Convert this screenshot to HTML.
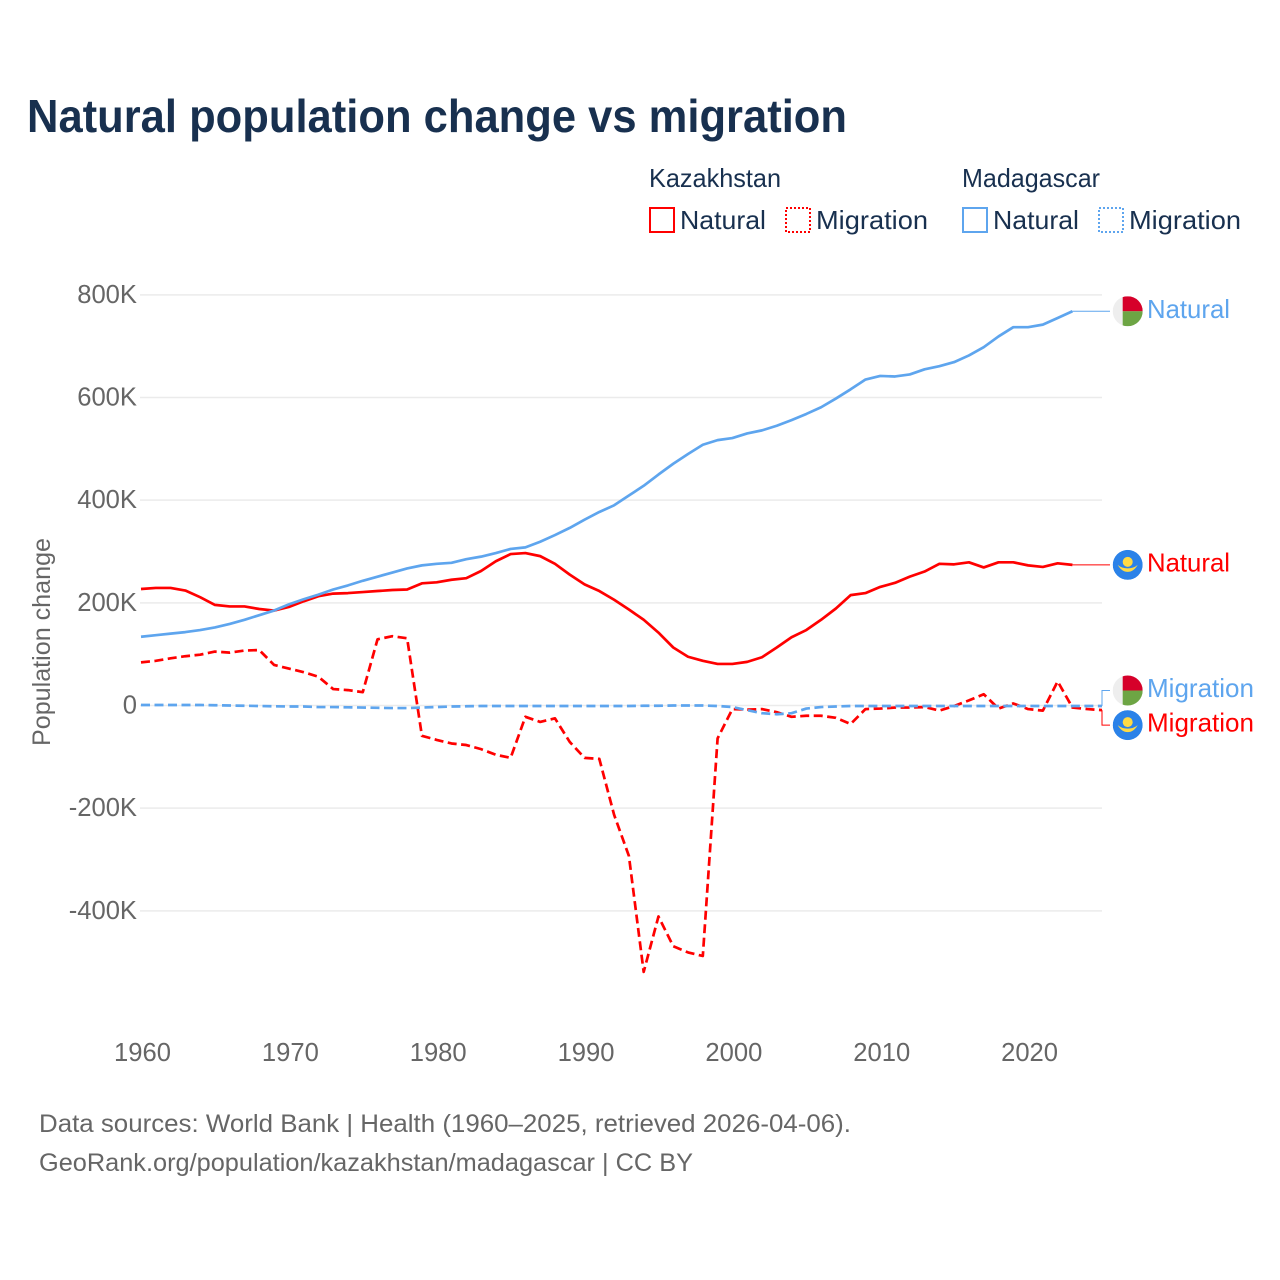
<!DOCTYPE html>
<html lang="en">
<head>
<meta charset="utf-8">
<title>Natural population change vs migration</title>
<style>
html,body{margin:0;padding:0;background:#fff;}
svg{display:block;font-family:"Liberation Sans",sans-serif;}
.tick{font-size:25.6px;fill:#666;}
.leg{font-size:26px;fill:#18304f;}
.end{font-size:26px;}
.foot{font-size:25px;fill:#666;}
</style>
</head>
<body>
<svg id="chart" width="1280" height="1280" viewBox="0 0 1280 1280" xmlns="http://www.w3.org/2000/svg">
  <defs>
    <clipPath id="flag-clip"><circle cx="0" cy="0" r="15"/></clipPath>
  </defs>
  <rect width="1280" height="1280" fill="#fff"/>
  <text x="27" y="132" font-size="46.5" font-weight="700" fill="#18304f" textLength="820" lengthAdjust="spacingAndGlyphs">Natural population change vs migration</text>

  <g>
    <text class="leg" x="649" y="187" textLength="132" lengthAdjust="spacingAndGlyphs">Kazakhstan</text>
    <text class="leg" x="962" y="187" textLength="138" lengthAdjust="spacingAndGlyphs">Madagascar</text>
    <rect x="650" y="208" width="24" height="24" fill="none" stroke="#ff0000" stroke-width="2"/>
    <text class="leg" x="680" y="229" textLength="86" lengthAdjust="spacingAndGlyphs">Natural</text>
    <rect x="786" y="208" width="24" height="24" fill="none" stroke="#ff0000" stroke-width="2" stroke-dasharray="2 2"/>
    <text class="leg" x="816" y="229" textLength="112" lengthAdjust="spacingAndGlyphs">Migration</text>
    <rect x="963" y="208" width="24" height="24" fill="none" stroke="#5ea5ee" stroke-width="2"/>
    <text class="leg" x="993" y="229" textLength="86" lengthAdjust="spacingAndGlyphs">Natural</text>
    <rect x="1099" y="208" width="24" height="24" fill="none" stroke="#5ea5ee" stroke-width="2" stroke-dasharray="2 2"/>
    <text class="leg" x="1129" y="229" textLength="112" lengthAdjust="spacingAndGlyphs">Migration</text>
  </g>

  <g id="grid"></g>
  <g id="yticks"></g>
  <g id="xticks"></g>
  <text x="0" y="0" transform="translate(50,642) rotate(-90)" text-anchor="middle" font-size="25" fill="#666" textLength="208" lengthAdjust="spacingAndGlyphs">Population change</text>
  <g id="series"></g>
  <g id="leaders"></g>

  <g id="flag-mg-nat" clip-path="url(#flag-clip)">
    <rect x="-15" y="-15" width="30" height="30" fill="#eeeeee"/><rect x="-5" y="-15" width="20" height="15" fill="#d6002a"/><rect x="-5" y="0" width="20" height="15" fill="#6da544"/>
  </g>
  <text id="lab-mg-nat" class="end" x="1147" fill="#5ea5ee" textLength="83" lengthAdjust="spacingAndGlyphs">Natural</text>

  <g id="flag-kz-nat" clip-path="url(#flag-clip)">
    <circle r="15" fill="#2b82e8"/><circle cx="0" cy="-3" r="5" fill="#ffda44"/><path d="M-10 0 Q-6 7 0 7 Q6 7 10 0 Q6 3.5 0 3.5 Q-6 3.5 -10 0Z" fill="#ffda44"/>
  </g>
  <text id="lab-kz-nat" class="end" x="1147" fill="#ff0000" textLength="83" lengthAdjust="spacingAndGlyphs">Natural</text>

  <g id="flag-mg-mig" clip-path="url(#flag-clip)">
    <rect x="-15" y="-15" width="30" height="30" fill="#eeeeee"/><rect x="-5" y="-15" width="20" height="15" fill="#d6002a"/><rect x="-5" y="0" width="20" height="15" fill="#6da544"/>
  </g>
  <text id="lab-mg-mig" class="end" x="1147" fill="#5ea5ee" textLength="107" lengthAdjust="spacingAndGlyphs">Migration</text>

  <g id="flag-kz-mig" clip-path="url(#flag-clip)">
    <circle r="15" fill="#2b82e8"/><circle cx="0" cy="-3" r="5" fill="#ffda44"/><path d="M-10 0 Q-6 7 0 7 Q6 7 10 0 Q6 3.5 0 3.5 Q-6 3.5 -10 0Z" fill="#ffda44"/>
  </g>
  <text id="lab-kz-mig" class="end" x="1147" fill="#ff0000" textLength="107" lengthAdjust="spacingAndGlyphs">Migration</text>

  <text class="foot" x="39" y="1132" textLength="812" lengthAdjust="spacingAndGlyphs">Data sources: World Bank | Health (1960–2025, retrieved 2026-04-06).</text>
  <text class="foot" x="39" y="1171" textLength="654" lengthAdjust="spacingAndGlyphs">GeoRank.org/population/kazakhstan/madagascar | CC BY</text>
</svg>
<script>
const startYear = 1960;
const xTickYears = [1960, 1970, 1980, 1990, 2000, 2010, 2020];
const yTickValues = [800, 600, 400, 200, 0, -200, -400];
const yTickLabels = ['800K', '600K', '400K', '200K', '0', '-200K', '-400K'];
const kazakhstanNatural = [227,229,229,224,211,196,193,193,188,185,
  192,203,213,218,219,221,223,225,226,238,
  240,245,248,262,281,295,297,291,276,255,
  236,223,206,187,167,142,113,95,87,81,
  81,85,94,113,133,147,167,189,215,219,
  231,239,251,261,276,275,279,269,279,279,
  273,270,277,274];
const madagascarNatural = [134,137,140,143,147,152,159,167,176,185,
  197,207,216,226,234,243,251,259,267,273,
  276,278,285,290,297,305,308,319,332,346,
  362,377,390,409,428,450,471,490,508,517,
  521,530,536,545,556,568,581,598,616,635,
  642,641,645,655,661,669,682,698,719,737,
  737,742,755,768];
const kazakhstanMigration = [84,87,92,96,99,105,103,107,108,79,
  72,65,56,32,30,26,129,135,131,-59,
  -67,-74,-77,-85,-96,-102,-22,-32,-25,-71,
  -102,-104,-213,-293,-519,-411,-469,-481,-488,-64,
  -7,-8,-7,-13,-22,-20,-20,-24,-36,-7,
  -6,-4,-4,-3,-10,-1,10,22,-6,4,
  -7,-10,47,-4,-7,-9];
const madagascarMigration = [1,1,1,1,1,0.5,0,-0.5,-1,-1.5,
  -2,-2,-3,-3,-3.5,-4,-4.5,-5,-5,-4,
  -3,-2,-1.5,-1,-1,-1,-1,-1,-1,-1,
  -1,-1,-1,-1,-0.5,-0.5,0,0,0,-1,
  -3,-9,-15,-17,-15,-6,-3,-2,-1,-1,
  -1,-1,-1,-1,-1,-1,-1,-1,-1,-1,
  -1,-1,-1,-1,-1,-1];

const NS = 'http://www.w3.org/2000/svg';
const RED = '#ff0000';
const BLUE = '#5ea5ee';
const LINE_WIDTH = 2.7;
const PLOT_LEFT = 141;
const PLOT_RIGHT = 1102;
function xScale(year) { return PLOT_LEFT + (year - 1960) * (PLOT_RIGHT - PLOT_LEFT) / 65; }
function yScale(v) { return 705.5 - v * 0.5133; }
function make(tag, attrs, parent) {
  const el = document.createElementNS(NS, tag);
  for (const k in attrs) el.setAttribute(k, attrs[k]);
  parent.appendChild(el);
  return el;
}
function pathFor(values) {
  return values.map(function (v, i) {
    return (i ? 'L' : 'M') + xScale(startYear + i).toFixed(2) + ' ' + yScale(v).toFixed(2);
  }).join(' ');
}

const gridG = document.getElementById('grid');
const yG = document.getElementById('yticks');
yTickValues.forEach(function (v, i) {
  const line = make('line', {x1: 140, x2: PLOT_RIGHT, y1: yScale(v), y2: yScale(v), stroke: '#ebebeb', 'stroke-width': 1.5}, gridG);
  
  
  const t = make('text', {x: 137, y: yScale(v) + 8, 'text-anchor': 'end', class: 'tick'}, yG);
  
  
  t.textContent = yTickLabels[i];
});
const xG = document.getElementById('xticks');
xTickYears.forEach(function (yr) {
  const t = make('text', {x: Math.max(xScale(yr) + 1.5, 142.5), y: 1061, 'text-anchor': 'middle', class: 'tick'}, xG);
  
  
  t.textContent = String(yr);
});

const seriesG = document.getElementById('series');
const naturalKz = make('path', {d: pathFor(kazakhstanNatural), fill: 'none', stroke: RED, 'stroke-width': LINE_WIDTH, 'stroke-linejoin': 'round'}, seriesG);


const naturalMg = make('path', {d: pathFor(madagascarNatural), fill: 'none', stroke: BLUE, 'stroke-width': LINE_WIDTH, 'stroke-linejoin': 'round'}, seriesG);


const migrationKz = make('path', {d: pathFor(kazakhstanMigration), fill: 'none', stroke: RED, 'stroke-width': LINE_WIDTH, 'stroke-dasharray': '9 4.5', 'stroke-linejoin': 'round'}, seriesG);


const migrationMg = make('path', {d: pathFor(madagascarMigration), fill: 'none', stroke: BLUE, 'stroke-width': LINE_WIDTH, 'stroke-dasharray': '9 4.5', 'stroke-linejoin': 'round'}, seriesG);



const last = function (a) { return a[a.length - 1]; };
const endX = function (a) { return xScale(startYear + a.length - 1); };
const yMgNat = yScale(last(madagascarNatural));
const yKzNat = yScale(last(kazakhstanNatural));
const yMgMigEnd = yScale(last(madagascarMigration));
const yKzMigEnd = yScale(last(kazakhstanMigration));
const yMgMig = yMgMigEnd - 15.5;
const yKzMig = yKzMigEnd + 15;

const leadG = document.getElementById('leaders');
const leadA = make('path', {d: 'M' + endX(madagascarNatural) + ' ' + yMgNat + ' H1110', fill: 'none', stroke: BLUE, 'stroke-width': 1}, leadG);


const leadB = make('path', {d: 'M' + endX(kazakhstanNatural) + ' ' + yKzNat + ' H1110', fill: 'none', stroke: RED, 'stroke-width': 1}, leadG);


const leadC = make('path', {d: 'M1102 ' + yMgMigEnd + ' V' + yMgMig + ' H1110', fill: 'none', stroke: BLUE, 'stroke-width': 1}, leadG);


const leadD = make('path', {d: 'M1102 ' + yKzMigEnd + ' V' + yKzMig + ' H1110', fill: 'none', stroke: RED, 'stroke-width': 1}, leadG);



function place(flagId, labelId, y) {
  document.getElementById(flagId).setAttribute('transform', 'translate(1127.7,' + y + ')');
  document.getElementById(labelId).setAttribute('y', y + 6.5);
}
place('flag-mg-nat', 'lab-mg-nat', yMgNat);
place('flag-kz-nat', 'lab-kz-nat', yKzNat);
place('flag-mg-mig', 'lab-mg-mig', yMgMig);
place('flag-kz-mig', 'lab-kz-mig', yKzMig);
</script>
</body>
</html>
